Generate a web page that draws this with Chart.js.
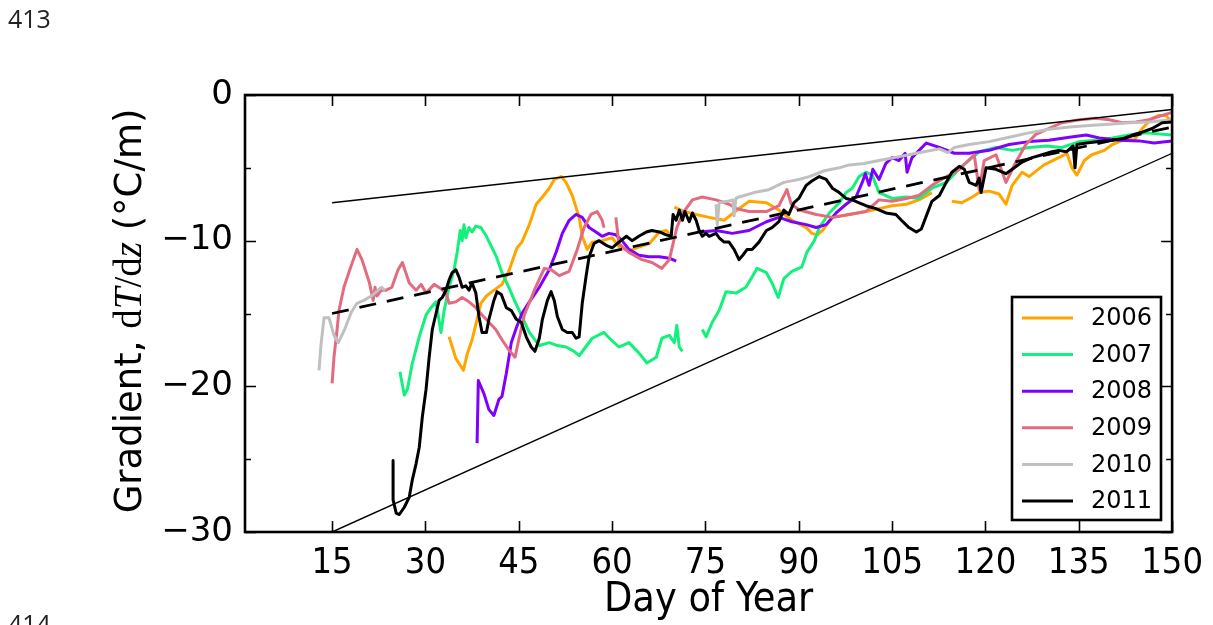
<!DOCTYPE html>
<html lang="en">
<head>
<meta charset="UTF-8">
<title>Gradient dT/dz vs Day of Year</title>
<script src="https://cdn.jsdelivr.net/npm/chart.js"></script>
<style>
  html, body { margin: 0; padding: 0; background: #fff; }
  #wrap { position: relative; width: 1213px; height: 625px; overflow: hidden; }
  #chart { position: absolute; left: 0; top: 0; }
  .lineno { position: absolute; left: 8px; font-family: "Open Sans", sans-serif; font-size: 25px; line-height: 34px; color: #222; }
</style>
</head>
<body>
<div id="wrap">
  <canvas id="chart" width="1213" height="625"></canvas>
  <div class="lineno" style="top:1px">413</div>
  <div class="lineno" style="top:606px">414</div>
</div>
<script>
// axis ticks
const X_TICKS = [15, 30, 45, 60, 75, 90, 105, 120, 135, 150];
const Y_MAJOR = [-30, -20, -10, 0];
const Y_MINOR = [-25, -15, -5];

// legend
const YEARS = ['2006', '2007', '2008', '2009', '2010', '2011'];
const COLORS = ['#ffa500', '#14f07c', '#7f00ff', '#e36b80', '#c0c0c0', '#000000'];

// [day, gradient]; null marks a gap in the record
const S2006 = [[33.8,-16.6],[34.9,-18.1],[36.1,-18.9],[36.7,-17.8],[37.5,-16.8],[38.3,-15.4],[38.9,-14.3],[39.8,-13.8],[40.7,-13.5],[42.3,-13.0],[43.4,-12.1],[44.7,-10.5],[45.5,-10.1],[46.7,-8.9],[47.8,-7.5],[48.8,-7.0],[49.9,-6.4],[50.7,-5.8],[51.8,-5.6],[52.6,-6.0],[53.6,-6.9],[54.7,-8.4],[55.2,-9.7],[56.0,-10.6],[56.8,-10.1],[58.4,-10.0],[60.0,-9.8],[61.1,-10.4],[62.7,-10.7],[63.9,-10.5],[66.0,-10.2],[67.6,-9.4],[68.7,-9.3],[69.6,-9.7],[69.8,null],
  [70.0,-7.7],[71.6,-8.0],[73.5,-8.2],[75.6,-8.4],[78.0,-8.6],[80.1,-7.9],[82.0,-7.3],[84.8,-7.4],[86.8,-7.9],[88.9,-8.6],[91.2,-9.1],[92.1,-9.5],[93.0,-9.6],[93.8,-9.3],[95.4,-8.4],[98.1,-8.2],[100.8,-8.0],[102.9,-7.8],[105.0,-7.6],[107.3,-7.5],[109.3,-7.2],[111.4,-6.7],[113.0,null],
  [114.6,-7.3],[116.2,-7.4],[117.9,-7.0],[119.0,-6.7],[120.6,-6.6],[122.2,-6.8],[123.3,-7.5],[124.3,-6.2],[125.9,-5.3],[127.0,-5.6],[129.4,-4.8],[131.8,-4.3],[133.1,-4.0],[133.9,-5.0],[134.7,-5.5],[135.9,-4.5],[137.1,-4.1],[139.1,-3.8],[140.4,-3.4],[142.6,-3.0],[143.9,-3.1],[145.2,-2.3],[146.8,-1.6],[147.9,-1.4],[149.0,-1.4],[150,-1.9]];

const S2007 = [[25.9,-19.0],[26.6,-20.6],[27.1,-20.2],[27.9,-18.4],[29.0,-16.6],[30.1,-15.1],[30.9,-14.6],[31.7,-14.2],[32.5,-16.3],[33.0,-14.8],[33.8,-13.2],[34.6,-12.0],[35.1,-10.8],[35.6,-9.3],[35.9,-10.0],[36.2,-8.9],[36.5,-9.8],[37.0,-9.1],[37.5,-9.4],[38.1,-9.0],[38.9,-9.1],[39.8,-9.7],[40.6,-10.4],[41.4,-11.1],[42.3,-12.2],[43.4,-13.2],[44.3,-14.1],[45.5,-15.2],[46.7,-16.3],[48.3,-17.2],[49.9,-17.0],[51.2,-17.2],[52.6,-17.3],[53.9,-17.6],[54.7,-17.9],[56.8,-16.7],[58.7,-16.3],[59.8,-16.8],[61.1,-17.3],[62.7,-17.0],[64.3,-17.7],[65.6,-18.4],[67.1,-18.0],[68.0,-16.7],[69.2,-16.5],[70.0,-17.0],[70.4,-15.8],[70.8,-17.3],[71.3,-17.6],[72.5,null],
  [74.5,-16.1],[75.1,-16.6],[76.1,-15.6],[77.2,-14.8],[78.3,-13.5],[79.9,-13.6],[81.5,-13.2],[82.5,-12.5],[83.3,-11.9],[84.8,-12.2],[85.7,-12.9],[86.7,-13.9],[87.6,-12.6],[88.9,-12.1],[90.5,-11.8],[91.3,-10.8],[92.5,-10.0],[93.3,-9.1],[94.9,-8.1],[96.5,-7.4],[97.6,-6.7],[98.6,-6.4],[99.7,-5.6],[100.8,-5.3],[101.8,-5.5],[102.9,-6.7],[105.0,-7.1],[107.3,-7.0],[109.3,-7.1],[111.4,-6.4],[113.7,-6.0],[116.2,-4.9],[119.0,-3.9],[121.7,-3.6],[124.3,-3.8],[127.0,-3.6],[129.8,-3.5],[132.3,-3.6],[135.1,-3.2],[137.8,-3.1],[140.4,-2.95],[143.1,-2.75],[145.8,-2.6],[150,-2.75]];

const S2008 = [[38.3,-23.9],[38.5,-19.6],[39.4,-20.5],[40.2,-21.6],[41.0,-22.0],[41.8,-20.9],[42.3,-20.7],[43.0,-19.1],[43.8,-17.0],[44.6,-16.0],[45.5,-15.0],[46.7,-14.2],[48.3,-13.2],[49.9,-12.0],[51.0,-10.8],[52.0,-9.5],[53.1,-8.6],[54.2,-8.2],[55.2,-8.4],[56.3,-9.1],[57.4,-9.4],[58.4,-9.7],[59.5,-9.5],[60.6,-9.6],[61.6,-10.0],[62.7,-10.6],[64.3,-11.0],[65.9,-11.1],[67.6,-11.1],[69.2,-11.2],[70.3,-11.4],[72.0,null],
  [74.3,-9.4],[76.7,-9.3],[79.3,-9.5],[82.0,-9.3],[84.8,-8.7],[86.8,-8.4],[88.9,-8.7],[91.2,-8.9],[92.8,-9.1],[94.4,-8.9],[96.0,-8.1],[97.6,-7.5],[99.2,-7.0],[100.2,-6.0],[100.7,-5.4],[101.3,-6.2],[101.9,-5.1],[102.9,-5.8],[104.0,-4.7],[105.0,-4.3],[106.1,-4.5],[107.1,-4.0],[107.4,-5.3],[108.2,-4.3],[110.5,-3.3],[112.6,-3.6],[115.0,-4.0],[117.4,-4.0],[120.6,-3.8],[123.8,-3.4],[127.0,-3.2],[130.2,-3.1],[133.5,-2.9],[136.2,-2.75],[138.3,-2.95],[141.5,-3.1],[144.7,-3.15],[147.1,-3.3],[150,-3.15]];

const S2009 = [[15.0,-19.8],[15.3,-18.0],[15.8,-16.1],[16.1,-14.8],[16.9,-13.2],[18.0,-11.8],[19.0,-10.6],[19.8,-11.3],[21.0,-12.9],[21.6,-14.1],[21.9,-13.2],[22.2,-13.8],[22.9,-13.4],[23.7,-13.4],[24.6,-13.2],[25.6,-12.0],[26.3,-11.5],[27.4,-12.9],[28.5,-13.4],[29.3,-13.0],[30.1,-13.6],[31.4,-13.0],[32.5,-13.3],[33.3,-13.6],[33.8,-14.3],[34.9,-14.2],[35.9,-13.9],[37.0,-14.2],[38.1,-14.6],[39.1,-15.1],[40.2,-15.6],[41.3,-16.1],[42.3,-16.8],[43.4,-17.5],[44.4,-18.0],[45.0,-16.8],[45.9,-15.1],[47.5,-13.4],[49.1,-11.9],[50.2,-12.0],[51.5,-12.4],[53.1,-12.1],[54.4,-10.6],[55.5,-9.1],[56.6,-8.2],[57.6,-8.0],[58.4,-8.6],[58.7,-9.1],[59.6,null],
  [60.6,-8.4],[61.1,-10.2],[62.7,-10.8],[64.8,-11.3],[66.4,-11.5],[68.0,-11.9],[69.2,-11.3],[69.8,-10.2],[70.4,-9.1],[71.4,-8.1],[72.9,-7.2],[74.5,-7.0],[76.7,-7.2],[78.8,-7.5],[80.0,-7.8],[82.0,-8.0],[84.8,-8.0],[86.8,-7.6],[88.1,-6.5],[88.8,-7.5],[90.1,-7.9],[92.8,-8.2],[95.4,-8.4],[98.1,-8.2],[100.8,-8.0],[102.9,-7.2],[105.0,-7.3],[107.3,-7.1],[109.3,-6.9],[111.4,-6.2],[114.2,-5.5],[115.8,-5.1],[118.2,-4.1],[119.0,-6.5],[119.8,-4.5],[121.7,-4.1],[123.3,-6.0],[124.9,-4.6],[126.5,-3.4],[128.1,-2.7],[130.2,-2.3],[132.3,-1.9],[135.1,-1.7],[137.8,-1.6],[139.9,-1.7],[142.0,-1.9],[144.2,-1.85],[146.3,-1.7],[148.4,-1.4],[150,-1.2]];

const S2010 = [[12.9,-18.9],[13.2,-17.2],[13.7,-15.3],[14.5,-15.3],[15.3,-16.5],[16.0,-17.0],[17.0,-16.1],[18.1,-14.9],[19.0,-14.3],[20.1,-14.1],[21.3,-13.8],[22.9,-13.2],[23.5,-13.4],[50.0,null],
  [76.7,-7.5],[76.9,-8.9],[77.2,-7.4],[78.5,-7.3],[79.4,-7.2],[79.6,-8.3],[79.9,-7.1],[80.4,-7.0],[82.8,-6.7],[85.2,-6.5],[87.6,-6.0],[90.0,-5.8],[91.7,-5.6],[94.1,-5.2],[96.5,-5.0],[98.1,-4.8],[100.5,-4.7],[102.9,-4.5],[105.3,-4.3],[107.7,-4.1],[110.1,-3.9],[112.6,-3.7],[114.0,-3.95],[115.0,-3.6],[117.4,-3.4],[120.6,-3.2],[123.8,-2.9],[127.0,-2.6],[130.2,-2.35],[133.5,-2.2],[136.7,-2.1],[139.9,-2.0],[143.1,-1.9],[146.3,-1.85],[150,-1.7]];

const S2011 = [[24.8,-25.1],[24.8,-27.8],[25.3,-28.7],[25.8,-28.8],[26.6,-28.3],[27.4,-27.6],[27.9,-26.4],[28.5,-25.3],[29.0,-24.2],[29.5,-22.1],[30.1,-20.2],[30.6,-18.0],[31.1,-16.1],[31.7,-15.0],[32.2,-14.1],[32.7,-13.9],[33.3,-13.4],[33.8,-12.7],[34.3,-12.2],[34.9,-12.0],[35.4,-12.5],[35.9,-13.2],[36.5,-13.1],[37.0,-13.4],[37.5,-12.9],[38.1,-13.6],[38.6,-15.2],[39.1,-16.3],[39.8,-16.3],[40.2,-15.4],[41.0,-14.1],[41.5,-13.5],[42.2,-13.7],[43.0,-14.6],[43.8,-14.8],[44.6,-15.4],[45.4,-15.6],[46.2,-16.6],[47.0,-17.3],[47.6,-17.6],[48.3,-16.7],[48.8,-15.4],[49.6,-14.1],[50.2,-13.5],[50.7,-14.1],[51.2,-15.2],[52.0,-16.1],[52.8,-16.3],[53.6,-16.3],[54.2,-16.7],[54.7,-16.6],[55.2,-14.3],[55.8,-12.5],[56.3,-11.1],[57.1,-10.2],[57.9,-10.0],[59.0,-10.3],[60.0,-10.5],[61.1,-10.1],[62.3,-9.7],[63.2,-10.0],[64.3,-9.7],[65.5,-9.4],[66.4,-9.3],[67.6,-9.4],[68.7,-9.6],[69.5,-9.7],[69.8,-8.2],[70.3,-8.6],[70.8,-7.9],[71.3,-8.6],[71.7,-8.0],[72.4,-8.7],[72.9,-8.1],[73.5,-8.6],[74.0,-9.3],[74.5,-9.7],[75.1,-9.5],[75.6,-9.7],[76.7,-9.5],[77.2,-9.8],[78.0,-10.1],[78.8,-10.1],[79.6,-10.6],[80.4,-11.3],[81.0,-11.0],[81.7,-10.6],[82.5,-10.6],[83.6,-10.1],[84.8,-9.3],[85.7,-9.1],[86.8,-8.7],[87.6,-7.9],[88.4,-8.2],[89.2,-7.4],[90.0,-7.1],[91.2,-6.2],[92.1,-5.9],[93.3,-5.6],[94.4,-5.8],[95.4,-6.4],[96.5,-6.7],[97.6,-7.1],[98.6,-7.2],[99.7,-7.4],[100.8,-7.6],[102.4,-7.8],[104.0,-8.1],[105.6,-8.2],[106.5,-8.6],[107.7,-9.1],[108.9,-9.4],[109.7,-9.2],[110.5,-8.3],[111.4,-7.3],[112.6,-6.9],[113.7,-6.0],[114.6,-5.3],[115.8,-4.9],[116.6,-5.1],[117.4,-6.0],[118.5,-6.2],[119.0,-5.7],[119.3,-6.7],[120.1,-5.0],[121.7,-5.1],[123.3,-5.4],[124.3,-5.1],[125.9,-4.6],[127.5,-4.3],[129.1,-4.1],[130.7,-3.9],[131.8,-3.8],[133.0,-3.9],[134.1,-3.5],[134.4,-5.0],[134.7,-3.4],[136.2,-3.3],[138.3,-3.2],[140.4,-3.1],[142.6,-2.95],[143.6,-2.75],[145.2,-2.55],[146.8,-2.3],[148.4,-1.9],[150,-1.85]];

// envelope and trend lines (end points)
const REF_DAYS = [15, 150];
const UPPER_BOUND = [-7.4, -1.0];
const LOWER_BOUND = [-30, -4.0];
const TREND = [-15, -2.2];

const SERIES = [S2006, S2007, S2008, S2009, S2010, S2011];

function pts(s) { return s.map(p => ({ x: p[0], y: p[1] })); }
function refPts(v) { return REF_DAYS.map((d, i) => ({ x: d, y: v[i] })); }

const datasets = SERIES.map((s, i) => ({
  label: YEARS[i],
  data: pts(s),
  borderColor: COLORS[i],
  borderWidth: 3,
  pointRadius: 0,
  spanGaps: false,
  order: 20 - i
}));
datasets.push(
  { label: 'upper', data: refPts(UPPER_BOUND), borderColor: '#000', borderWidth: 1.4, pointRadius: 0, order: 3 },
  { label: 'lower', data: refPts(LOWER_BOUND), borderColor: '#000', borderWidth: 1.4, pointRadius: 0, order: 2 },
  { label: 'trend', data: refPts(TREND), borderColor: '#000', borderWidth: 2.8, borderDash: [17, 11], pointRadius: 0, order: 1 }
);

function minus(v) { return v < 0 ? '\u2212' + Math.abs(v) : String(v); }

// inward ticks on all four sides + frame
const frame = {
  id: 'frame',
  afterDatasetsDraw(chart) {
    const { ctx, chartArea: a, scales: { x, y } } = chart;
    ctx.save();
    ctx.strokeStyle = '#000';
    ctx.lineWidth = 1.6;
    ctx.beginPath();
    X_TICKS.forEach(v => {
      const px = Math.round(x.getPixelForValue(v)) + 0.5;
      ctx.moveTo(px, a.bottom); ctx.lineTo(px, a.bottom - 11);
      ctx.moveTo(px, a.top); ctx.lineTo(px, a.top + 11);
    });
    Y_MAJOR.forEach(v => {
      const py = Math.round(y.getPixelForValue(v)) + 0.5;
      ctx.moveTo(a.left, py); ctx.lineTo(a.left + 11, py);
      ctx.moveTo(a.right, py); ctx.lineTo(a.right - 11, py);
    });
    Y_MINOR.forEach(v => {
      const py = Math.round(y.getPixelForValue(v)) + 0.5;
      ctx.moveTo(a.left, py); ctx.lineTo(a.left + 6, py);
      ctx.moveTo(a.right, py); ctx.lineTo(a.right - 6, py);
    });
    ctx.stroke();
    ctx.lineWidth = 2.6;
    ctx.strokeRect(a.left, a.top, a.right - a.left, a.bottom - a.top);
    ctx.restore();
  }
};

// y title with mixed fonts, legend inside the plot
const extras = {
  id: 'extras',
  afterDraw(chart) {
    const { ctx } = chart;
    ctx.save();
    const parts = [
      ['Gradient, ', '37px "DejaVu Sans"'],
      ['d', '39px "Liberation Serif"'],
      ['T', 'italic 39px "Liberation Serif"'],
      ['/d', '39px "Liberation Serif"'],
      ['z', 'italic 39px "Liberation Serif"'],
      [' (\u00b0C/m)', '37px "DejaVu Sans"']
    ];
    let total = 0;
    parts.forEach(p => { ctx.font = p[1]; total += ctx.measureText(p[0]).width; });
    ctx.translate(141, 311);
    ctx.rotate(-Math.PI / 2);
    ctx.fillStyle = '#000';
    ctx.textBaseline = 'alphabetic';
    let cx = -total / 2;
    parts.forEach(p => { ctx.font = p[1]; ctx.fillText(p[0], cx, 0); cx += ctx.measureText(p[0]).width; });
    ctx.restore();

    // legend
    ctx.save();
    const bx = 1012, by = 297, bw = 149, bh = 223, row = 36.6;
    ctx.fillStyle = '#fff';
    ctx.fillRect(bx, by, bw, bh);
    ctx.strokeStyle = '#000';
    ctx.lineWidth = 2.6;
    ctx.strokeRect(bx, by, bw, bh);
    ctx.font = '24px "DejaVu Sans"';
    ctx.textBaseline = 'middle';
    ctx.textAlign = 'left';
    YEARS.forEach((yr, i) => {
      const yy = by + 21 + i * row;
      ctx.strokeStyle = COLORS[i];
      ctx.lineWidth = 3;
      ctx.beginPath(); ctx.moveTo(bx + 10, yy); ctx.lineTo(bx + 61, yy); ctx.stroke();
      ctx.fillStyle = '#000';
      ctx.fillText(yr, bx + 79, yy + 1);
    });
    ctx.restore();
  }
};

new Chart(document.getElementById('chart'), {
  type: 'line',
  data: { datasets },
  plugins: [frame, extras],
  options: {
    responsive: false,
    animation: false,
    layout: { padding: { top: 95, right: 40, left: 0, bottom: 0 } },
    elements: { line: { tension: 0, borderJoinStyle: 'round', borderCapStyle: 'butt' } },
    plugins: { legend: { display: false }, tooltip: { enabled: false } },
    scales: {
      x: {
        type: 'linear', min: 1, max: 150,
        afterBuildTicks: s => { s.ticks = X_TICKS.map(v => ({ value: v })); },
        afterFit: s => { s.height = 93; },
        grid: { display: false, drawTicks: false },
        border: { display: false },
        ticks: { autoSkip: false, maxRotation: 0, padding: 10, color: '#000',
                 font: { family: '"DejaVu Sans Condensed", "Liberation Sans Narrow", "DejaVu Sans"', size: 36 } },
        title: { display: true, text: 'Day of Year', color: '#000', padding: { top: 0, bottom: 0 },
                 font: { family: '"DejaVu Sans Condensed", "Liberation Sans Narrow", "DejaVu Sans"', size: 41 } }
      },
      y: {
        type: 'linear', min: -30, max: 0,
        afterBuildTicks: s => { s.ticks = Y_MAJOR.map(v => ({ value: v })); },
        afterFit: s => { s.width = 245; },
        grid: { display: false, drawTicks: false },
        border: { display: false },
        ticks: { padding: 12, color: '#000', callback: minus,
                 font: { family: '"DejaVu Sans"', size: 34 } }
      }
    }
  }
});
</script>
</body>
</html>
